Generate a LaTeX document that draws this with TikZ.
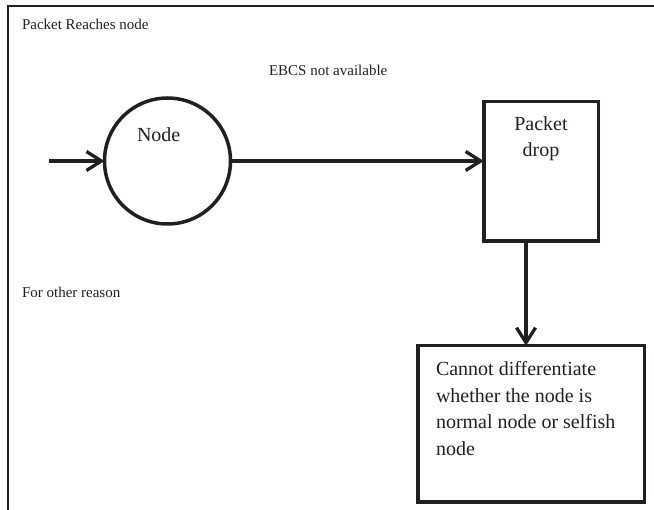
\documentclass[tikz,border=0pt]{standalone}
\usepackage{fontspec}
\setmainfont{Liberation Serif}
\usetikzlibrary{arrows.meta,calc}
\definecolor{ink}{RGB}{35,31,32}
\begin{document}
\begin{tikzpicture}[x=1pt,y=-1pt,
  every node/.style={inner sep=0pt,outer sep=0pt,text=ink},
  small/.style={font=\fontsize{15}{18}\selectfont},
  big/.style={font=\fontsize{20}{26}\selectfont},
  boxshape/.style={draw=ink,line width=3.5pt,rectangle,inner sep=0pt},
  flow/.style={draw=ink,line width=3.3pt,-{Straight Barb[length=15pt,width=19pt,line width=3.3pt]}},
  frame/.style={draw=ink,line width=2pt}]
\useasboundingbox (0,0) rectangle (654,510);
% frame
\coordinate (ftr) at (660,6);
\coordinate (ftl) at (7.5,6);
\coordinate (fbl) at (7.5,516);
\draw[frame] (ftr) -- (ftl) -- (fbl);
% texts
\node[small,anchor=base west] (reach) at (22,30) {Packet Reaches node};
\node[small,anchor=base west] (ebcs) at (269,75.5) {EBCS not available};
\node[small,anchor=base west] (other) at (22,298) {For other reason};
% node circle
\node[draw=ink,line width=3.5pt,circle,minimum size=126pt] (nd) at (167.5,161) {};
\node[big,anchor=base west] (ndtext) at (137,141.5) {Node};
% packet drop box
\node[boxshape,minimum width=114.5pt,minimum height=139.5pt] (pd) at (541,171.5) {};
\node[big,anchor=base] (pd1) at (541,130.7) {Packet};
\node[big,anchor=base] (pd2) at (541,157) {drop};
% lower box
\node[boxshape,minimum width=226.5pt,minimum height=156.5pt] (cannot) at (531,424) {};
\node[big,anchor=base west] (c1) at (436,375.7) {Cannot differentiate};
\node[big,anchor=base west] (c2) at (436,402.3) {whether the node is};
\node[big,anchor=base west] (c3) at (436,429) {normal node or selfish};
\node[big,anchor=base west] (c4) at (436,455.7) {node};
% connectors
\coordinate (in) at (49,161);
\draw[flow] (in) -- (nd.west);
\draw[flow] (nd.east) -- (nd.east -| pd.west);
\draw[flow] ([xshift=-15pt]pd.south) -- ([xshift=-15pt]pd.south |- cannot.north);
\end{tikzpicture}
\end{document}
